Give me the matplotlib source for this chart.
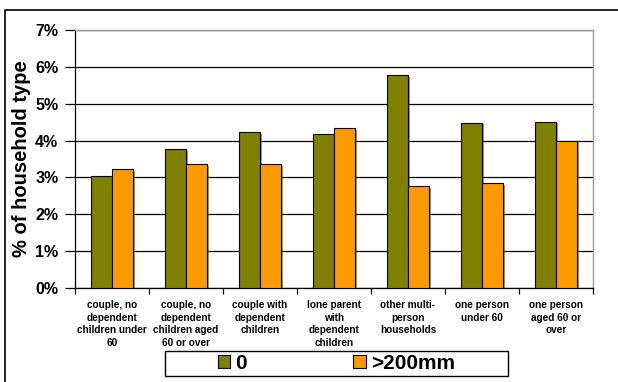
import matplotlib
matplotlib.use("Agg")
import matplotlib.pyplot as plt
import matplotlib.patheffects as pe
from matplotlib.patches import Rectangle, Patch
from matplotlib.ticker import FuncFormatter, MultipleLocator
import numpy as np

plt.rcParams['font.family'] = ['Liberation Sans', 'DejaVu Sans']
plt.rcParams['font.weight'] = 'bold'

categories = [
    "couple, no\ndependent\nchildren under\n60",
    "couple, no\ndependent\nchildren aged\n60 or over",
    "couple with\ndependent\nchildren",
    "lone parent\nwith\ndependent\nchildren",
    "other multi-\nperson\nhouseholds",
    "one person\nunder 60",
    "one person\naged 60 or\nover",
]
series_names = ["0", ">200mm"]
values_zero = [3.05, 3.76, 4.22, 4.17, 5.77, 4.49, 4.51]
values_200 = [3.22, 3.36, 3.36, 4.33, 2.76, 2.84, 3.98]
colors = ["#808000", "#FF9900"]

W, H = 618, 382
fig = plt.figure(figsize=(W / 100, H / 100), dpi=100)

# outer chart frame
fig.patches.append(Rectangle((5 / W, -0.05), 1.1, 1 - 10 / H + 0.05,
                             transform=fig.transFigure, fill=False,
                             edgecolor="black", linewidth=1.2))

ax = fig.add_axes([75 / W, (H - 288) / H, (593 - 75) / W, (288 - 30) / H])

x = np.arange(len(categories))
bw = 0.284
shadow = [pe.SimplePatchShadow(offset=(1.2, -1.2), shadow_rgbFace="#555555", alpha=0.6),
          pe.Normal()]
b1 = ax.bar(x - bw / 2, values_zero, bw, color=colors[0], edgecolor="black",
            linewidth=0.8, zorder=3)
b2 = ax.bar(x + bw / 2, values_200, bw, color=colors[1], edgecolor="black",
            linewidth=0.8, zorder=3)
for bars in (b1, b2):
    for p in bars:
        p.set_path_effects(shadow)

ax.set_xlim(-0.5, len(categories) - 0.5)
ax.set_ylim(0, 7)
ax.yaxis.set_major_locator(MultipleLocator(1))
ax.yaxis.set_major_formatter(FuncFormatter(lambda v, _: f"{v:.0f}%"))
ax.grid(axis="y", color="black", linewidth=0.9, zorder=0)
ax.set_axisbelow(True)

ax.set_xticks(np.arange(len(categories) + 1) - 0.5)
ax.set_xticklabels([])
ax.set_xticks(x, minor=True)
ax.set_xticklabels(categories, minor=True, fontsize=7.2, fontweight="bold",
                   linespacing=1.3, va="top")
ax.tick_params(axis="x", which="minor", length=0, pad=9)
ax.tick_params(axis="x", which="major", length=4, direction="out", width=0.9)
ax.tick_params(axis="y", length=7, direction="out", width=0.9, labelsize=11.5, pad=5)
for lab in ax.get_yticklabels():
    lab.set_fontweight("bold")

for side in ("left", "bottom"):
    ax.spines[side].set_color("black")
    ax.spines[side].set_linewidth(0.9)
for side in ("right", "top"):
    ax.spines[side].set_color("#999999")
    ax.spines[side].set_linewidth(1.0)

ax.set_ylabel("% of household type", fontsize=14.5, fontweight="bold", labelpad=3)

# legend box
fig.patches.append(Rectangle((165 / W, (H - 376) / H), (508 - 165) / W, 25 / H,
                             transform=fig.transFigure, fill=False,
                             edgecolor="black", linewidth=1.0))
handles = [Patch(facecolor=c, edgecolor="black", linewidth=0.8) for c in colors]
leg = fig.legend(handles, series_names, loc="center",
                 bbox_to_anchor=(336.5 / W, (H - 363.5) / H), ncol=2,
                 frameon=False, fontsize=15, handlelength=0.6, handleheight=0.6,
                 handletextpad=0.25, columnspacing=5.1, borderpad=0)
for t in leg.get_texts():
    t.set_fontweight("bold")

fig.savefig("out.png", dpi=100)
